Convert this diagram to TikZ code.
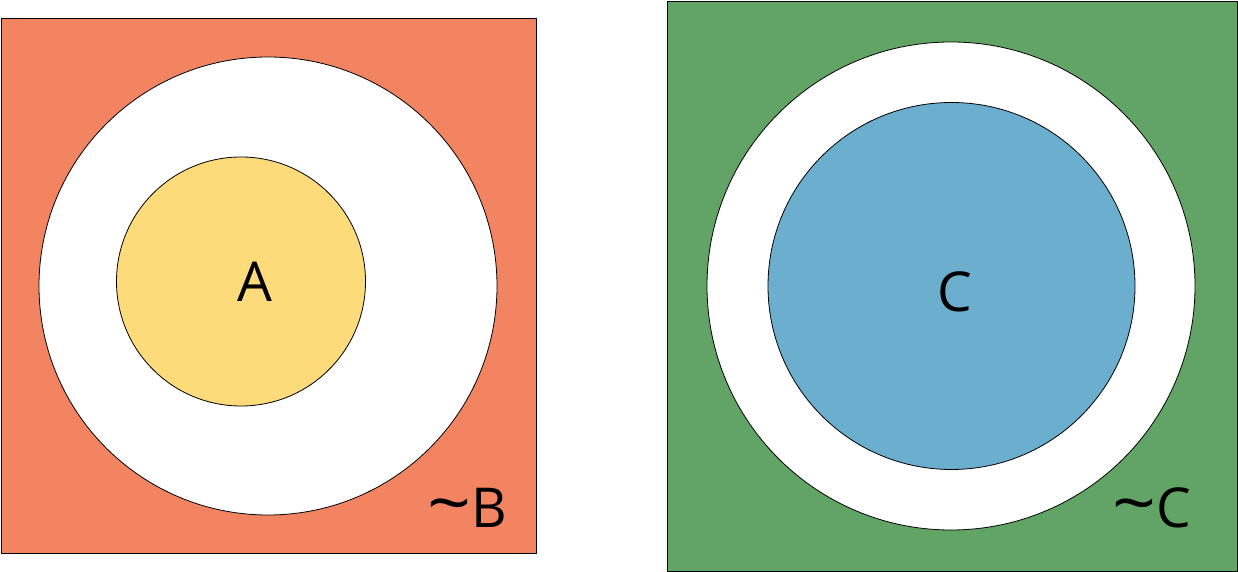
\documentclass[tikz,border=0pt]{standalone}
\usepackage{fontspec}
\usepackage{graphicx}
\setmainfont{Open Sans}
\definecolor{salmon}{RGB}{242,132,98}
\definecolor{yel}{RGB}{253,218,122}
\definecolor{grn}{RGB}{97,164,101}
\definecolor{blu}{RGB}{108,174,206}
\newcommand{\bigtil}{\scalebox{1.4}[1.25]{\textasciitilde}}
\begin{document}
\begin{tikzpicture}[x=1pt,y=1pt,
  region/.style={draw=black,line width=0.8pt},
  lbl/.style={font=\fontsize{55}{60}\selectfont,inner sep=0pt}]
\useasboundingbox (0,0) rectangle (1238,572);
\path[region,fill=salmon] (1,19) rectangle (536,554);
\path[region,fill=white] (268,286) circle (229);
\path[region,fill=yel] (241,290.5) circle (124.5);
\path[region,fill=grn] (667,1) rectangle (1237,571);
\path[region,fill=white] (951,286) circle (244);
\path[region,fill=blu] (951.5,286) circle (183.5);
\node[lbl] (a) at (255,290) {A};
\node[lbl] (c) at (955,280) {C};
\node[lbl,anchor=base] (nb) at (467,44) {\bigtil B};
\node[lbl,anchor=base] (nc) at (1152,44) {\bigtil C};
\end{tikzpicture}
\end{document}
